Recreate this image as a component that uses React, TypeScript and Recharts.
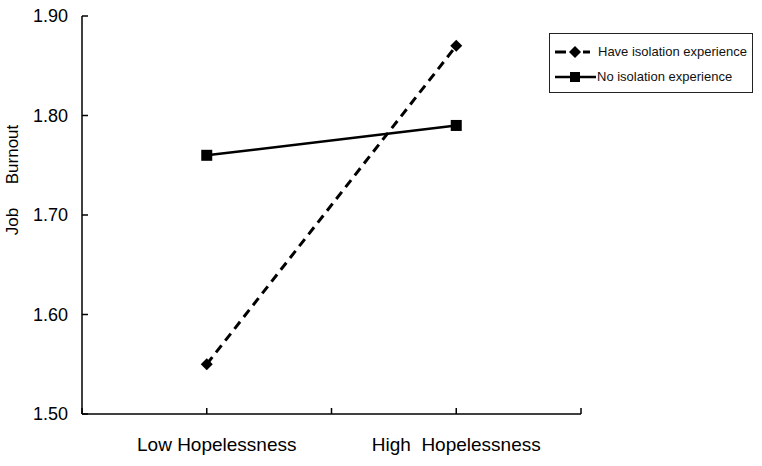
import { Legend, Line, LineChart, XAxis, YAxis } from "recharts";

const categories = ["Low Hopelessness", "High\u00A0\u00A0Hopelessness"];
const categoryPositions = [1, 3];
const xTicks = [0, 1, 2, 3, 4];
const yTicks = [1.5, 1.6, 1.7, 1.8, 1.9];
const haveIsolation = [1.55, 1.87];
const noIsolation = [1.76, 1.79];

const data = categories.map((label, i) => ({
  x: categoryPositions[i],
  label,
  have: haveIsolation[i],
  no: noIsolation[i],
}));

const FONT = "'Liberation Sans', Arial, sans-serif";
const INK = "#000";

function SquareDot(props: any) {
  const { cx, cy } = props;
  if (cx == null || cy == null) return null;
  return <rect x={cx - 5.5} y={cy - 5.5} width={11} height={11} fill={INK} />;
}

function DiamondDot(props: any) {
  const { cx, cy } = props;
  if (cx == null || cy == null) return null;
  const r = 6;
  return (
    <polygon
      points={`${cx},${cy - r} ${cx + r},${cy} ${cx},${cy + r} ${cx - r},${cy}`}
      fill={INK}
    />
  );
}

function XTick(props: any) {
  const { x, y, payload } = props;
  const idx = categoryPositions.indexOf(payload.value);
  if (idx < 0) return null;
  // the low label sits a little right of its tick in the original
  const nudge = idx === 0 ? 10 : 0;
  return (
    <text
      x={x + nudge}
      y={y}
      dy="0.71em"
      textAnchor="middle"
      fill={INK}
      fontSize={19}
      fontFamily={FONT}
    >
      {categories[idx]}
    </text>
  );
}

function LegendBox() {
  const rows = [
    { name: "Have isolation experience", dashed: true },
    { name: "No isolation experience", dashed: false },
  ];
  return (
    <div
      style={{
        boxSizing: "border-box",
        width: 204,
        height: 60,
        border: "1.5px solid #222",
        paddingTop: 5,
        background: "#fff",
      }}
    >
      {rows.map((row) => (
        <div
          key={row.name}
          style={{ display: "flex", alignItems: "center", height: 25 }}
        >
          <svg width={48} height={14} style={{ marginLeft: 3 }}>
            {row.dashed ? (
              <>
                <line x1={2} y1={7} x2={13} y2={7} stroke={INK} strokeWidth={3} />
                <polygon points="22,1 28,7 22,13 16,7" fill={INK} />
                <line x1={30} y1={7} x2={37} y2={7} stroke={INK} strokeWidth={3} />
              </>
            ) : (
              <>
                <line x1={2} y1={7} x2={43} y2={7} stroke={INK} strokeWidth={2.5} />
                <rect x={17} y={2} width={10} height={10} fill={INK} />
              </>
            )}
          </svg>
          <span
            style={{
              fontFamily: FONT,
              fontSize: 13,
              color: "#111",
              marginLeft: row.dashed ? -3 : -4,
              whiteSpace: "nowrap",
            }}
          >
            {row.name}
          </span>
        </div>
      ))}
    </div>
  );
}

export default function App() {
  return (
    <div style={{ position: "absolute", left: 0, top: 0, width: 762, height: 466, background: "#fff" }}>
      <LineChart
        width={762}
        height={466}
        data={data}
        margin={{ top: 16, right: 181, bottom: 0, left: 0 }}
      >
        <XAxis
          dataKey="x"
          type="number"
          domain={[0, 4]}
          ticks={xTicks}
          height={52}
          tickSize={-6}
          tickMargin={30}
          tick={<XTick />}
          axisLine={{ stroke: INK, strokeWidth: 1.5 }}
          tickLine={{ stroke: INK, strokeWidth: 1.5 }}
        />
        <YAxis
          type="number"
          domain={[1.5, 1.9]}
          ticks={yTicks}
          width={82}
          tickSize={-6}
          tickMargin={20}
          tickFormatter={(v: number) => v.toFixed(2)}
          tick={{ fill: INK, fontSize: 18, fontFamily: FONT }}
          axisLine={{ stroke: INK, strokeWidth: 1.5 }}
          tickLine={{ stroke: INK, strokeWidth: 1.5 }}
          label={{
            content: () => (
              <text
                x={12}
                y={180}
                transform="rotate(-90, 12, 180)"
                textAnchor="middle"
                dominantBaseline="central"
                fill={INK}
                fontSize={17}
                fontFamily={FONT}
              >
                {"Job\u00A0\u00A0\u00A0\u00A0\u00A0Burnout"}
              </text>
            ),
          }}
        />
        <Legend
          layout="vertical"
          align="center"
          verticalAlign="middle"
          content={() => <LegendBox />}
          wrapperStyle={{ position: "absolute", left: 549, top: 33, width: 204, height: 60 }}
        />
        <Line
          type="linear"
          dataKey="have"
          name="Have isolation experience"
          stroke={INK}
          strokeWidth={3}
          strokeDasharray="9 6"
          dot={<DiamondDot />}
          activeDot={false}
          isAnimationActive={false}
        />
        <Line
          type="linear"
          dataKey="no"
          name="No isolation experience"
          stroke={INK}
          strokeWidth={2.5}
          dot={<SquareDot />}
          activeDot={false}
          isAnimationActive={false}
        />
      </LineChart>
    </div>
  );
}
